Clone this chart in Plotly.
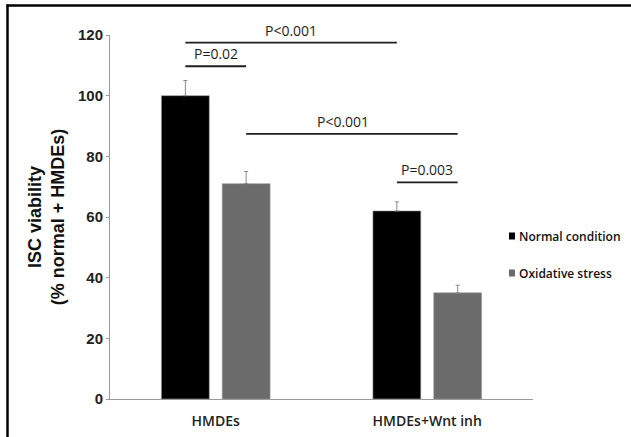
import plotly.graph_objects as go

# ---- data ----
categories = ["HMDEs", "HMDEs+Wnt inh"]
series_names = ["Normal condition", "Oxidative stress"]
normal_vals = [100, 62]
normal_err = [5, 3]
oxid_vals = [71, 35]
oxid_err = [4, 2.5]
y_ticks = [0, 20, 40, 60, 80, 100, 120]

# comparisons: (category index a, series a, category index b, series b, bar height, label)
comparisons = [
    (0, 0, 1, 0, 117.5, "P<0.001"),
    (0, 0, 0, 1, 109.7, "P=0.02"),
    (0, 1, 1, 1, 87.4, "P<0.001"),
    (1, 0, 1, 1, 71.4, "P=0.003"),
]

# ---- style / layout ----
W, H = 631, 437
ML, MR, MT, MB = 110, 98, 35, 38
BARGAP = 0.425
BARGROUPGAP = 0.213
colors = ["#000000", "#6b6b6b"]

PW = W - ML - MR
PH = H - MT - MB


def px_x(px):
    return (px - ML) / PW


def px_y(py):
    return (H - MB - py) / PH


fig = go.Figure()
for name, vals, errs, col in [
    (series_names[0], normal_vals, normal_err, colors[0]),
    (series_names[1], oxid_vals, oxid_err, colors[1]),
]:
    fig.add_trace(go.Bar(
        x=categories, y=vals, name=name,
        marker=dict(color=col, line=dict(color="#9a9a9a", width=0.6)),
        error_y=dict(type="data", array=errs, arrayminus=[0] * len(errs), symmetric=False,
                     visible=True, color="#8a8a8a", thickness=1, width=2),
        showlegend=False,
    ))

# bar centre offset within a category (in category units)
group_w = 1 - BARGAP
offsets = [-group_w / 4, group_w / 4]

shapes = []
annotations = []
for ca, sa, cb, sb, yv, label in comparisons:
    x0 = ca + offsets[sa]
    x1 = cb + offsets[sb]
    shapes.append(dict(type="line", xref="x", yref="y", x0=x0, x1=x1, y0=yv, y1=yv,
                       line=dict(color="#1e1e1e", width=1.8)))
    annotations.append(dict(x=(x0 + x1) / 2, y=yv, xref="x", yref="y", text=label,
                            showarrow=False, yanchor="bottom", yshift=1,
                            font=dict(family="Open Sans", size=14, color="#1e1e1e")))
# nudge the middle label slightly left as in the reference
annotations[2]["xshift"] = -9

# frame (top and left)
shapes.append(dict(type="line", xref="paper", yref="paper",
                   x0=px_x(6.5), x1=px_x(W + 2), y0=px_y(5.5), y1=px_y(5.5),
                   line=dict(color="black", width=2.5)))
shapes.append(dict(type="line", xref="paper", yref="paper",
                   x0=px_x(7.5), x1=px_x(7.5), y0=px_y(4.5), y1=px_y(H + 2),
                   line=dict(color="black", width=2.5)))

# legend (manual, compact)
leg_y = [236, 273]
for i, name in enumerate(series_names):
    shapes.append(dict(type="rect", xref="paper", yref="paper",
                       x0=px_x(509), x1=px_x(515), y0=px_y(leg_y[i] + 3.5), y1=px_y(leg_y[i] - 3.5),
                       fillcolor=colors[i], line=dict(width=0)))
    annotations.append(dict(x=px_x(516.5), y=px_y(leg_y[i]), xref="paper", yref="paper",
                            text=name, showarrow=False, xanchor="left", yanchor="middle",
                            font=dict(family="Open Sans", size=12, color="#111111", weight=600)))

fig.update_layout(
    width=W, height=H,
    margin=dict(l=ML, r=MR, t=MT, b=MB, pad=0),
    paper_bgcolor="white", plot_bgcolor="white",
    barmode="group", bargap=BARGAP, bargroupgap=BARGROUPGAP,
    shapes=shapes, annotations=annotations,
    xaxis=dict(
        showline=True, linecolor="#9a9a9a", linewidth=1, ticks="",
        showgrid=False, zeroline=False, automargin=False, ticklabelstandoff=9,
        tickfont=dict(family="Open Sans", size=14, color="#222222", weight=600),
        range=[-0.5, 1.5],
    ),
    yaxis=dict(
        range=[0, 120], tickvals=y_ticks, showline=True, linecolor="#9a9a9a", linewidth=1,
        ticks="outside", ticklen=3, tickcolor="#9a9a9a", showgrid=False, zeroline=False,
        automargin=False,
        tickfont=dict(family="Liberation Sans", size=15, color="#222222", weight="bold"),
        title=dict(text="ISC viability<br>(% normal + HMDEs)", standoff=8,
                   font=dict(family="Liberation Sans", size=18, color="#111111", weight="bold")),
    ),
)

fig.write_html(
    "out.html",
    config={"displayModeBar": False},
    post_script="document.body.style.margin='0';document.body.style.overflow='hidden';",
)
